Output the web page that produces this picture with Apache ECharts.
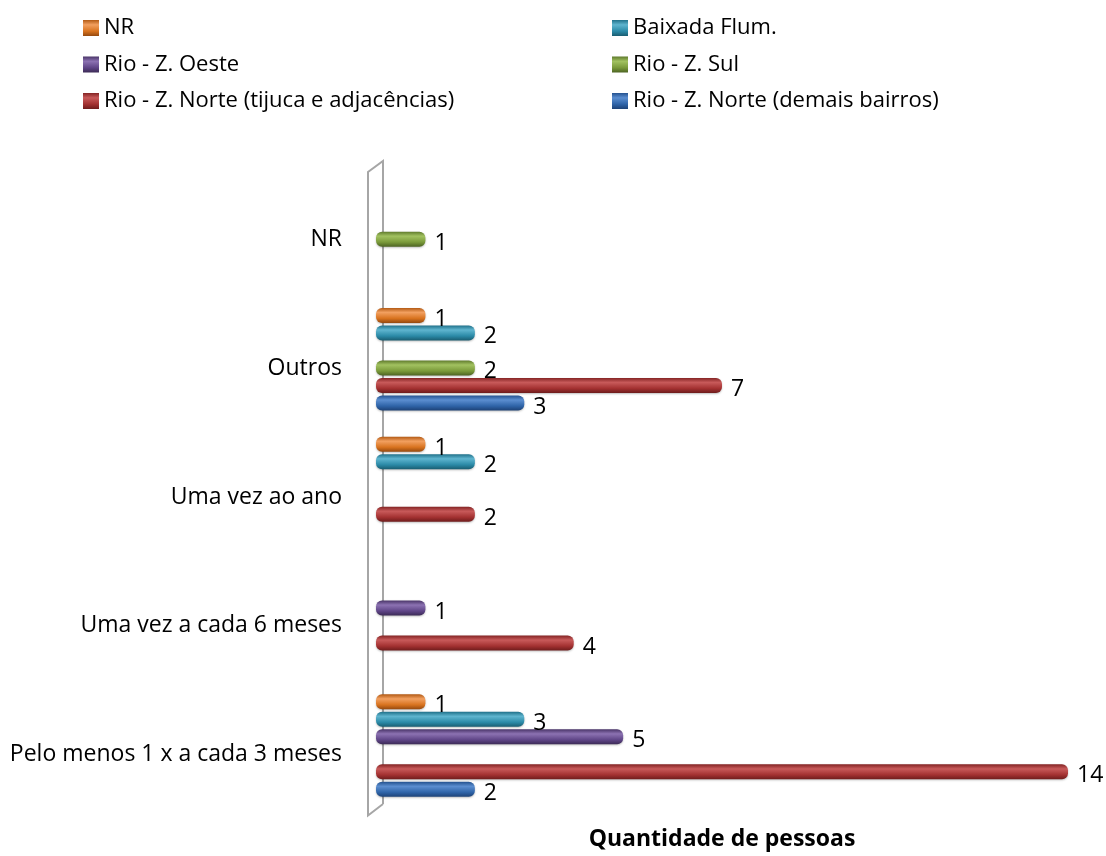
<!DOCTYPE html>
<html>
<head>
<meta charset="utf-8">
<script src="https://cdn.jsdelivr.net/npm/echarts@6/dist/echarts.min.js"></script>
<style>
html,body{margin:0;padding:0;background:#fff;}
#c{width:1106px;height:856px;}
</style>
</head>
<body>
<div id="c"></div>
<script>
var categories = ['Pelo menos 1 x a cada 3 meses', 'Uma vez a cada 6 meses', 'Uma vez ao ano', 'Outros', 'NR'];
var seriesNames = ['Rio - Z. Norte (demais bairros)', 'Rio - Z. Norte (tijuca e adjacências)', 'Rio - Z. Sul', 'Rio - Z. Oeste', 'Baixada Flum.', 'NR'];
var demaisBairros = [2, null, null, 3, null];
var tijuca = [14, 4, 2, 7, null];
var zonaSul = [null, null, null, 2, 1];
var zonaOeste = [5, 1, null, null, null];
var baixada = [3, null, 2, 2, null];
var naoResp = [1, null, 1, 1, null];
var valueMax = 14;
var legendCol1 = ['NR', 'Rio - Z. Oeste', 'Rio - Z. Norte (tijuca e adjacências)'];
var legendCol2 = ['Baixada Flum.', 'Rio - Z. Sul', 'Rio - Z. Norte (demais bairros)'];

var palette = [
  ['#24528f', '#5b8ed0', '#2f64a8', '#1d4276'],
  ['#842424', '#c85a5a', '#a33131', '#6e1c1c'],
  ['#5f7a2c', '#a2c260', '#7a9a3a', '#4d6423'],
  ['#4a3569', '#8c72b2', '#5f4587', '#3b2a55'],
  ['#20718a', '#5fb5cf', '#2b8aa7', '#1a5d71'],
  ['#b35a14', '#f2a060', '#d8731f', '#95490f']
];
function grad(p) {
  return new echarts.graphic.LinearGradient(0, 0, 0, 1, [
    {offset: 0, color: p[0]},
    {offset: 0.3, color: p[1]},
    {offset: 0.7, color: p[2]},
    {offset: 1, color: p[3]}
  ]);
}
var dataSets = [demaisBairros, tijuca, zonaSul, zonaOeste, baixada, naoResp];
var FONT = 'Open Sans';

var series = dataSets.map(function (d, i) {
  return {
    name: seriesNames[i],
    type: 'bar',
    data: d,
    barWidth: 15,
    barGap: '16.7%',
    itemStyle: {color: grad(palette[i]), borderRadius: [6, 6, 6, 6], shadowColor: 'rgba(0,0,0,0.25)', shadowBlur: 2, shadowOffsetY: 1},
    label: {show: true, position: 'right', distance: 9, offset: [0, 4], color: '#000', fontSize: 23, fontFamily: FONT}
  };
}).reverse();

var chart = echarts.init(document.getElementById('c'));
var legendCommon = {
  orient: 'vertical',
  top: 16,
  padding: 0,
  itemWidth: 16,
  itemHeight: 16,
  itemGap: 12.5,
  icon: 'rect',
  textStyle: {fontSize: 22, fontFamily: FONT, color: '#000', lineHeight: 24}
};
chart.setOption({
  animation: false,
  legend: [
    Object.assign({left: 83, data: legendCol1}, legendCommon),
    Object.assign({left: 612, data: legendCol2}, legendCommon)
  ],
  grid: {left: 376, right: 38, top: 166, bottom: 39.5, containLabel: false},
  xAxis: {
    type: 'value', min: 0, max: valueMax,
    axisLine: {show: false}, axisTick: {show: false}, axisLabel: {show: false}, splitLine: {show: false},
    name: 'Quantidade de pessoas', nameLocation: 'middle', nameGap: 18,
    nameTextStyle: {fontSize: 23, fontWeight: 'bold', fontFamily: FONT, color: '#000'}
  },
  yAxis: {
    type: 'category', data: categories,
    axisLine: {show: false}, axisTick: {show: false},
    axisLabel: {fontSize: 23, fontFamily: FONT, color: '#000', margin: 34, verticalAlign: 'top', lineHeight: 18}
  },
  series: series
});

// 3D-style wall along the category axis, positioned from the axis scales
var pTop = chart.convertToPixel({gridIndex: 0}, [0, categories.length - 1]);
var pBot = chart.convertToPixel({gridIndex: 0}, [0, 0]);
var band = (pBot[1] - pTop[1]) / (categories.length - 1);
var yTop = pTop[1] - band / 2, yBot = pBot[1] + band / 2, x0 = pTop[0];
chart.setOption({
  graphic: [{
    type: 'polyline', silent: true, z: -1,
    shape: {points: [[x0 + 7, yBot - 6], [x0 + 7, yTop - 5], [x0 - 8, yTop + 6], [x0 - 8, yBot + 5.5], [x0 + 7, yBot - 6]]},
    style: {stroke: '#a6a6a6', lineWidth: 2, fill: null}
  }]
});
</script>
</body>
</html>
